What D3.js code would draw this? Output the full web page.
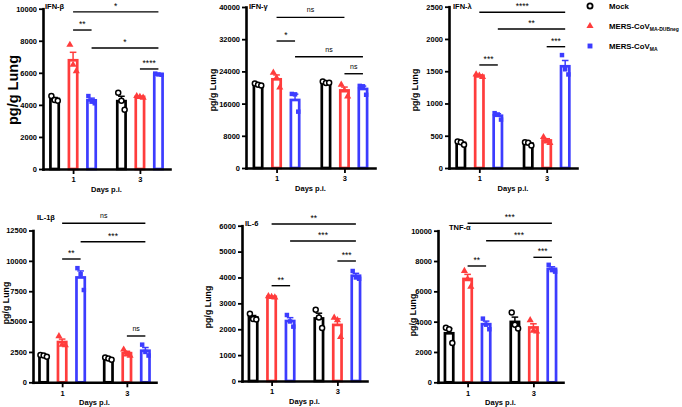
<!DOCTYPE html>
<html><head><meta charset="utf-8">
<script src="https://cdn.jsdelivr.net/npm/d3@7"></script>
<style>
html,body{margin:0;padding:0;background:#fff;}
svg{display:block;font-family:"Liberation Sans",Arial,Helvetica,sans-serif;}
</style></head>
<body><svg id="chart" width="682" height="407"></svg>
<script>
// ---------- DATA ----------
const days = ["1", "3"];
const seriesNames = ["Mock", "MERS-CoV MA-DUBneg", "MERS-CoV MA"];
const panelTitles = ["IFN-β", "IFN-γ", "IFN-λ", "IL-1β", "IL-6", "TNF-α"];
const yLabel = "pg/g Lung";
const xLabel = "Days p.i.";

// points per day: [Mock, DUBneg, MA]
const ifnBeta = [
  [[4550, 4300, 4250], [7750, 6500, 6100], [4550, 4200, 4100]],
  [[4750, 4250, 3700], [4550, 4500, 4450], [5950, 5900, 5880]]
];
const ifnGamma = [
  [[21000, 20700, 20500], [23700, 22400, 20000], [18400, 18300, 14000]],
  [[21500, 21100, 21200], [20700, 19300, 17800], [20400, 20300, 18200]]
];
const ifnLambda = [
  [[410, 400, 360], [1450, 1430, 1410], [850, 830, 750]],
  [[400, 390, 350], [480, 410, 390], [1750, 1530, 1450]]
];
const il1b = [
  [[2250, 2200, 2100], [3800, 3100, 3050], [9400, 8900, 7600]],
  [[2050, 1950, 1850], [2700, 2300, 2200], [3100, 2500, 2200]]
];
const il6 = [
  [[2600, 2400, 2380], [3280, 3250, 3230], [2550, 2300, 2100]],
  [[2750, 2450, 2050], [2450, 2350, 1700], [4250, 4000, 3950]]
];
const tnfa = [
  [[3600, 3500, 2600], [7350, 6800, 6300], [4200, 3800, 3500]],
  [[4600, 3800, 3550], [4100, 3400, 3350], [7750, 7400, 7300]]
];

// y tick labels
const ticksIfnBeta = [0, 2000, 4000, 6000, 8000, 10000];
const ticksIfnGamma = [0, 8000, 16000, 24000, 32000, 40000];
const ticksIfnLambda = [0, 500, 1000, 1500, 2000, 2500];
const ticksIl1b = [0, 2500, 5000, 7500, 10000, 12500];
const ticksIl6 = [0, 1000, 2000, 3000, 4000, 5000, 6000];
const ticksTnfa = [0, 2000, 4000, 6000, 8000, 10000];

// significance: [fromDay, fromSeries, toDay, toSeries, height (data units), label]
const sigIfnBeta = [[0,1,1,2,9800,"*"],[0,1,0,2,8670,"**"],[0,2,1,2,7550,"*"],[1,1,1,2,6240,"****"]];
const sigIfnGamma = [[0,1,1,1,37430,"ns"],[0,1,0,2,31550,"*"],[0,2,1,2,27650,"ns"],[1,1,1,2,23420,"ns"]];
const sigIfnLambda = [[0,1,1,2,2413,"****"],[0,2,1,2,2155,"**"],[1,1,1,2,1880,"***"],[0,1,0,2,1597,"***"]];
const sigIl1b = [[0,1,1,2,13093,"ns"],[0,2,1,2,11578,"***"],[0,1,0,2,10153,"**"],[1,1,1,2,3813,"ns"]];
const sigIl6 = [[0,1,1,2,6066,"**"],[0,2,1,2,5409,"***"],[1,1,1,2,4636,"***"],[0,1,0,2,3682,"**"]];
const sigTnfa = [[0,1,1,2,10488,"***"],[0,2,1,2,9340,"***"],[1,1,1,2,8245,"***"],[0,1,0,2,7672,"**"]];

// ---------- LAYOUT / STYLE ----------
const colors = ["#000000", "#ff3c3c", "#3c3cff"];
const panels = [
  {data: ifnBeta, ticks: ticksIfnBeta, sig: sigIfnBeta, x0: 43, x1: 170, yTop: 8.7, yBot: 169, big: true, lab: [13, 90], title: [45, 9]},
  {data: ifnGamma, ticks: ticksIfnGamma, sig: sigIfnGamma, x0: 246, x1: 375, yTop: 7, yBot: 168, lab: [213, 90], title: [249, 9]},
  {data: ifnLambda, ticks: ticksIfnLambda, sig: sigIfnLambda, x0: 449, x1: 577, yTop: 6.7, yBot: 168, lab: [415, 90], title: [453, 9]},
  {data: il1b, ticks: ticksIl1b, sig: sigIl1b, x0: 33, x1: 156, yTop: 230.5, yBot: 382.3, lab: [6, 303], title: [37, 219.5]},
  {data: il6, ticks: ticksIl6, sig: sigIl6, x0: 242, x1: 367, yTop: 225.7, yBot: 381, lab: [208, 307], title: [245, 225.5]},
  {data: tnfa, ticks: ticksTnfa, sig: sigTnfa, x0: 438, x1: 563, yTop: 230.7, yBot: 382.3, lab: [413, 315], title: [449, 230]}
];

const svg = d3.select("#chart");
const jitter = [-3.2, 0, 3.2];

function mean(a){ return d3.mean(a); }
function sem(a){ return d3.deviation(a) / Math.sqrt(a.length); }

panels.forEach((p, pi) => {
  const g = svg.append("g");
  const y = d3.scaleLinear().domain([0, d3.max(p.ticks)]).range([p.yBot, p.yTop]);
  const x = d3.scalePoint().domain(days).range([p.x0, p.x1]).padding(0.45);
  const inner = d3.scaleBand().domain([0, 1, 2]).range([-24, 24]).paddingInner(0.405);
  const cx = (d, s) => x(days[d]) + inner(s) + inner.bandwidth() / 2;
  const bw = inner.bandwidth();

  // bars
  p.data.forEach((dayArr, di) => {
    dayArr.forEach((pts, si) => {
      const m = mean(pts), e = sem(pts);
      const c = cx(di, si);
      const sw = 2.7;
      g.append("rect")
        .attr("x", c - bw / 2 + sw / 2).attr("width", bw - sw)
        .attr("y", y(m)).attr("height", y(0) - y(m))
        .attr("fill", "#fff").attr("stroke", colors[si]).attr("stroke-width", sw);
      // error bar (upward)
      g.append("line").attr("x1", c).attr("x2", c).attr("y1", y(m)).attr("y2", y(m + e))
        .attr("stroke", colors[si]).attr("stroke-width", 1.5);
      g.append("line").attr("x1", c - 3.3).attr("x2", c + 3.3).attr("y1", y(m + e)).attr("y2", y(m + e))
        .attr("stroke", colors[si]).attr("stroke-width", 1.5);
      // points
      pts.forEach((v, k) => {
        const px = c + jitter[k], py = y(v);
        if (si === 0) {
          g.append("circle").attr("cx", px).attr("cy", py).attr("r", 2.5)
            .attr("fill", "#fff").attr("stroke", "#000").attr("stroke-width", 1.5);
        } else {
          g.append("path").attr("transform", `translate(${px},${py})`)
            .attr("d", d3.symbol().type(si === 1 ? d3.symbolTriangle : d3.symbolSquare).size(si === 1 ? 22 : 20)())
            .attr("fill", colors[si]);
        }
      });
    });
  });

  // axes
  const ya = g.append("g").attr("transform", `translate(${p.x0},0)`)
    .call(d3.axisLeft(y).tickValues(p.ticks).tickSize(4).tickSizeOuter(0).tickPadding(2).tickFormat(d3.format("d")));
  const xa = g.append("g").attr("transform", `translate(0,${p.yBot})`)
    .call(d3.axisBottom(x).tickSize(5).tickSizeOuter(0).tickPadding(3));
  [ya, xa].forEach(a => {
    a.select(".domain").attr("stroke", "#000").attr("stroke-width", 2.6).attr("stroke-linecap", "square");
    a.selectAll(".tick line").attr("stroke", "#000").attr("stroke-width", 1.8);
    a.selectAll(".tick text").attr("fill", "#000").style("font-size", "7.5px").style("font-weight", "bold")
      .style("font-family", '"Liberation Sans",Arial,sans-serif');
  });

  // x label
  g.append("text").attr("x", (p.x0 + p.x1) / 2).attr("y", p.yBot + 23)
    .attr("text-anchor", "middle").style("font-size", "7.5px").style("font-weight", "bold").text(xLabel);
  // y label
  g.append("text").attr("transform", `translate(${p.lab[0]},${p.lab[1]}) rotate(-90)`)
    .attr("text-anchor", "middle").attr("dy", "0.35em")
    .style("font-size", p.big ? "14.5px" : "8.8px").style("font-weight", "bold").text(yLabel);
  // title
  g.append("text").attr("x", p.title[0]).attr("y", p.title[1])
    .style("font-size", "7.5px").style("font-weight", "bold").text(panelTitles[pi]);

  // significance
  p.sig.forEach(s => {
    const xa1 = cx(s[0], s[1]), xa2 = cx(s[2], s[3]), yy = y(s[4]);
    g.append("line").attr("x1", xa1).attr("x2", xa2).attr("y1", yy).attr("y2", yy)
      .attr("stroke", "#000").attr("stroke-width", 1.4);
    g.append("text").attr("x", (xa1 + xa2) / 2).attr("y", yy - (s[5] === "ns" ? 5 : 3))
      .attr("text-anchor", "middle").style("font-size", s[5] === "ns" ? "7px" : "8.5px").text(s[5]);
  });
});

// legend
const leg = svg.append("g");
const legY = [6, 26, 46];
seriesNames.forEach((n, i) => {
  if (i === 0) {
    leg.append("circle").attr("cx", 590).attr("cy", legY[i]).attr("r", 2.6)
      .attr("fill", "#fff").attr("stroke", "#000").attr("stroke-width", 1.8);
  } else {
    leg.append("path").attr("transform", `translate(590,${legY[i]})`)
      .attr("d", d3.symbol().type(i === 1 ? d3.symbolTriangle : d3.symbolSquare).size(i === 1 ? 22 : 24)())
      .attr("fill", colors[i]);
  }
  const t = leg.append("text").attr("x", 609).attr("y", legY[i] + 3)
    .style("font-size", "7.8px").style("font-weight", "bold");
  const parts = n.split(" ");
  t.append("tspan").text(parts[0]);
  if (parts[1]) {
    t.append("tspan").attr("dy", 2).style("font-size", "5px").text(parts[1]);
  }
});
</script></body></html>
